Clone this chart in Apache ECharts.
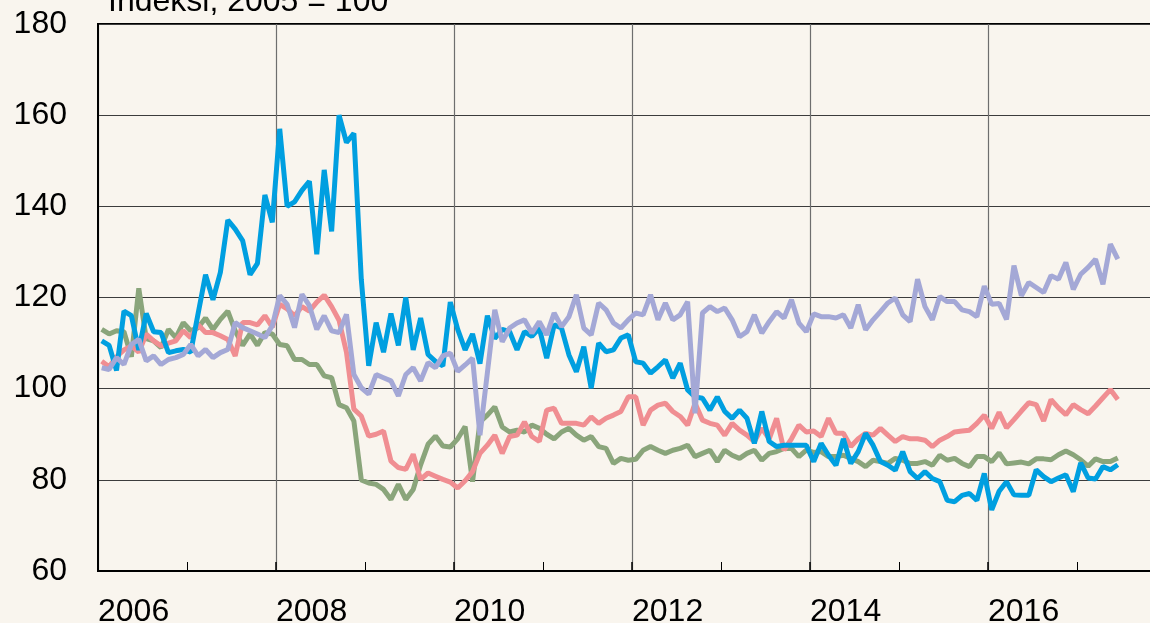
<!DOCTYPE html>
<html>
<head>
    <meta charset="utf-8" />
    <title></title>
    <script type="text/javascript" src="https://cdn.jsdelivr.net/npm/echarts@6/dist/echarts.min.js"></script>
    <style>
        html, body { margin: 0; padding: 0; background: #f9f5ee; overflow: hidden; }
        /* plot runs on past the right edge of the picture (to 2018) */
        #con1 { width: 1166px; height: 623px; }
    </style>
</head>
<body>
    <div id="con1"></div>
    <script type="text/javascript">
        // monthly index, Jan 2006 .. Jun 2017 (2005 = 100)
        var startYear = 2006;
        var yearTicks = [2006, 2008, 2010, 2012, 2014, 2016];
        var titleText = 'Indeksi, 2005 = 100';

        var green = [
            113, 112, 112.7, 112.5, 107, 122, 111, 110.5, 109, 113, 111.2, 114.5,
            112.7, 113.4, 115.5, 113, 115.2, 117, 112.7, 109.5, 112, 109.5, 112.3, 112,
            109.7, 109.4, 106.4, 106.4, 105.3, 105.3, 102.8, 102.4, 96.5, 95.8, 92.9, 80,
            79.3, 79, 77.9, 75.7, 79, 75.7, 77.9, 83.3, 87.8, 89.6, 87.4, 87.2,
            89, 91.7, 79.6, 92.7, 94.2, 96, 91.6, 90.5, 90.9, 90.5, 92, 91.3,
            90, 89, 90.5, 91.3, 89.8, 88.7, 89.5, 87.3, 86.9, 83.6, 84.7, 84.3,
            84.5, 86.5, 87.3, 86.5, 85.8, 86.5, 86.9, 87.6, 85.1, 85.8, 86.5, 84,
            86.5, 85.4, 84.7, 85.8, 86.5, 84.3, 85.8, 86.2, 86.9, 86.9, 85.1, 86.5,
            86, 86.2, 85.1, 85.1, 85.4, 84.7, 84, 82.9, 84.3, 84, 83.6, 84.7,
            84.3, 83.6, 83.6, 84, 83.2, 85.4, 84.3, 84.7, 83.6, 82.9, 85.1, 85.1,
            84, 85.9, 83.5, 83.7, 83.9, 83.5, 84.6, 84.6, 84.4, 85.5, 86.3, 85.5,
            84.4, 83, 84.6, 84, 84, 84.8
        ];
        var pink = [
            106, 104.8, 107, 108.5, 109.4, 108, 112, 110.5, 109.4, 110, 110.5, 112.7,
            111.2, 114, 112.3, 112.3, 111.6, 110.8, 107.2, 114.5, 114.5, 114, 116, 113.5,
            118.5, 117.5, 116, 118, 117, 119, 120.5, 118, 115, 108, 95.5, 94,
            89.6, 90, 90.7, 84.1, 82.7, 82.3, 85.6, 80.1, 81.5, 80.8, 80.1, 79.5,
            78.2, 79.8, 81.8, 85.8, 87.6, 89.8, 85.8, 89.5, 89.8, 92.7, 89.5, 88.4,
            95.3, 95.7, 92.4, 92.4, 92.4, 92, 93.8, 92.4, 93.5, 94.2, 95, 98.2,
            98.2, 92, 95.3, 96.4, 96.8, 95, 93.9, 92, 96.8, 93.1, 92.4, 92,
            89.8, 92.4, 90.9, 89.8, 88.4, 91.3, 89, 93.5, 86.5, 89, 92, 90.5,
            90.7, 89.5, 93.5, 90.2, 90.2, 87.3, 89, 90.2, 89.8, 91.3, 89.8, 88.4,
            89.5, 89, 89, 88.7, 87.3, 88.7, 89.5, 90.5, 90.7, 90.9, 92.4, 94.2,
            91.3, 94.8, 91.4, 93.2, 95.1, 96.9, 96.5, 92.9, 97.6, 95.8, 94.3, 96.5,
            95.4, 94.5, 96.2, 98, 99.8, 97.6
        ];
        var blue = [
            110.5, 109.5, 104, 117, 116, 108.5, 116.5, 112.5, 112.3, 107.9, 108.3, 108.6,
            108, 116.5, 125, 119.5, 125.5, 137, 135, 132.5, 125, 127.5, 142.5, 136.5,
            157, 140, 141, 143.5, 145.5, 129.5, 148, 134.5, 160, 154, 156, 124,
            105, 114.5, 108, 116.5, 109.5, 120, 108.5, 115.5, 107.5, 106, 105, 119,
            113, 108.5, 112, 105.5, 116, 111, 113, 112.5, 108.5, 112.5, 111.5, 113.3,
            106.7, 114, 113.3, 107.4, 103.7, 109.2, 100.1, 110, 108.1, 108.5, 111.1, 111.8,
            105.9, 105.6, 103.4, 104.8, 106.3, 102.3, 105.6, 99.7, 98.2, 97.9, 95.3, 98.2,
            95, 93.5, 95.3, 93.5, 88, 95, 88.4, 87.3, 87.6, 87.6, 87.6, 87.6,
            84, 88, 85.4, 83.2, 89, 83.6, 86.2, 90.2, 87.6, 84, 83.2, 82.1,
            86.2, 81.8, 80.3, 81.8, 80.3, 79.6, 75.5, 75.2, 76.6, 77, 75.5, 81.4,
            73.4, 77.5, 79.6, 76.7, 76.6, 76.6, 82.2, 80.7, 79.6, 80.4, 81.1, 77.4,
            83.7, 80.4, 80.2, 82.9, 82.2, 83.3
        ];
        var lavender = [
            104.6, 104.2, 106.8, 105.3, 109.7, 110.8, 106.1, 107.2, 105.3, 106.4, 106.8, 107.5,
            109.7, 107.2, 108.6, 106.8, 107.9, 108.6, 114.5, 113.4, 112.7, 112, 111.2, 113.8,
            120.4, 118.5, 113.4, 120.7, 118.2, 113, 116, 112.7, 112.3, 116.3, 103.1, 100.2,
            98.8, 103.1, 102.4, 101.7, 98.4, 103.1, 104.6, 101.7, 105.7, 104.6, 107.2, 107.8,
            103.8, 105.2, 106.7, 89.8, 103.5, 117.3, 110.3, 113.3, 114.4, 115.1, 112.2, 114.7,
            111.8, 116.6, 113.6, 115.8, 120.6, 113.3, 111.8, 118.8, 117.3, 114.4, 113.3, 115.1,
            116.6, 116.2, 120.6, 115.1, 118.8, 115.1, 116.2, 119.1, 94.6, 116.6, 118, 116.9,
            117.7, 115.1, 111.4, 112.5, 116.2, 112.2, 114.7, 116.9, 115.5, 119.5, 114.4, 112.5,
            116.4, 115.8, 115.8, 115.5, 116.2, 113.3, 118.4, 112.9, 115.1, 116.9, 118.8, 119.9,
            116.2, 114.7, 124, 118, 115.1, 120.2, 119.1, 119.1, 117.3, 116.9, 115.8, 122.5,
            118.5, 118.7, 115.2, 127, 120.4, 123.3, 122.2, 121.1, 124.8, 124, 127.7, 121.8,
            125.1, 126.6, 128.4, 122.9, 131.7, 128.4
        ];

        // month i sits in the middle of its month on a year axis
        function toPoints(arr) {
            return arr.map(function (v, i) { return [startYear + (i + 0.5) / 12, v]; });
        }

        var font = '"Liberation Sans", Arial, sans-serif';
        var myChart1 = echarts.init(document.getElementById('con1'));
        var option1 = {
            backgroundColor: '#f9f5ee',
            animation: false,
            graphic: [{
                type: 'text',
                left: 108,
                top: -14,
                style: { text: titleText, fontSize: 32, fontFamily: font, fill: '#000' }
            }],
            grid: {
                left: 98, top: 24, right: 0, bottom: 52,
                outerBoundsMode: 'none',
                show: true, borderColor: '#000', borderWidth: 2, backgroundColor: 'transparent'
            },
            xAxis: {
                type: 'value',
                min: 2006, max: 2018, interval: 2,
                axisLine: { lineStyle: { color: '#000', width: 2 } },
                axisTick: { inside: true, length: 9, lineStyle: { color: '#000', width: 1.5 } },
                minorTick: { show: true, splitNumber: 2, length: 9, lineStyle: { color: '#000', width: 1 } },
                splitLine: { show: true, lineStyle: { color: '#6e6e6e', width: 1.2 } },
                axisLabel: {
                    fontSize: 32, fontFamily: font, color: '#000', margin: 25, align: 'left',
                    formatter: function (v) { return yearTicks.indexOf(v) >= 0 ? String(v) : ''; }
                }
            },
            yAxis: {
                type: 'value',
                min: 60, max: 180, interval: 20,
                axisLine: { show: true, lineStyle: { color: '#000', width: 2 } },
                axisTick: { show: false },
                splitLine: { show: true, lineStyle: { color: '#3c3c3c', width: 1.2 } },
                axisLabel: { fontSize: 32, fontFamily: font, color: '#000', margin: 31 }
            },
            series: [
                { type: 'line', data: toPoints(green), showSymbol: false, lineStyle: { color: '#8aa57b', width: 5 } },
                { type: 'line', data: toPoints(pink), showSymbol: false, lineStyle: { color: '#f08e92', width: 5 } },
                { type: 'line', data: toPoints(blue), showSymbol: false, lineStyle: { color: '#009fe0', width: 5 } },
                { type: 'line', data: toPoints(lavender), showSymbol: false, lineStyle: { color: '#a4a8d6', width: 5 } }
            ]
        };
        option1 && myChart1.setOption(option1);
    </script>
</body>
</html>
